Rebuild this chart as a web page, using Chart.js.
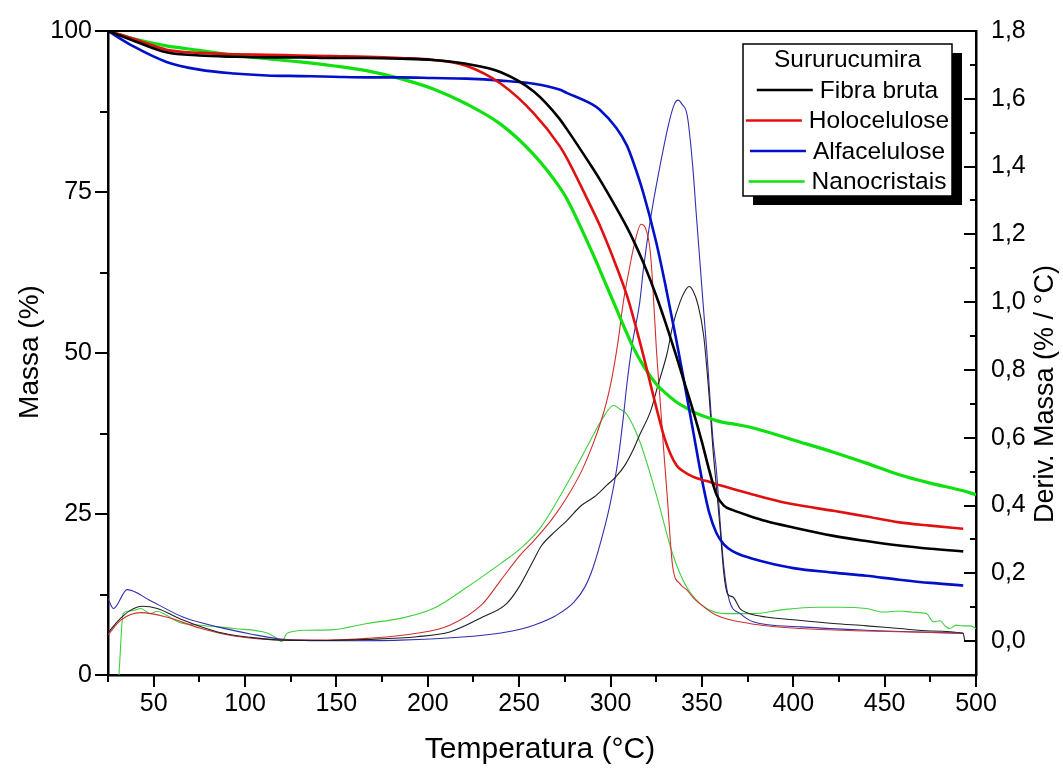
<!DOCTYPE html>
<html>
<head>
<meta charset="utf-8">
<script src="https://cdn.jsdelivr.net/npm/chart.js@4.4.1/dist/chart.umd.min.js"></script>
<style>
  html, body { margin: 0; padding: 0; background: #fff; }
  #wrap { width: 1063px; height: 771px; }
</style>
</head>
<body>
<div id="wrap"><canvas id="tgChart" width="1063" height="771"></canvas></div>
<script>
// temperature grid for the mass (TG) curves, °C
const massTemp = [25, 39, 57, 75, 94, 112, 130, 148, 167, 185, 203, 221, 240, 258, 272, 276, 290, 294, 303, 309,
  312, 318, 325, 330, 336, 340, 345, 350, 354, 358, 362, 367, 376, 385, 400, 422, 440, 458, 475, 493, 500];

// Massa (%)
const fibraMassa = [100, 98.5, 96.7, 96.2, 96.0, 95.9, 95.9, 95.8, 95.8, 95.7, 95.5, 94.9, 93.6, 90.6, 86.4, 84.8, 78.8, 77.0, 72.6, 69.5,
  67.8, 64.0, 58.9, 54.8, 49.5, 45.8, 41.2, 36.2, 31.8, 28.0, 26.3, 25.6, 24.7, 23.9, 22.9, 21.6, 20.8, 20.1, 19.6, 19.2, null];
const holoMassa = [100, 98.8, 97.1, 96.6, 96.4, 96.3, 96.2, 96.1, 96.0, 95.8, 95.5, 94.6, 91.8, 87.2, 82.2, 80.3, 72.3, 69.9, 63.6, 58.9,
  56.0, 49.6, 41.6, 36.4, 32.6, 31.6, 30.8, 30.3, 30.0, 29.6, 29.3, 28.9, 28.2, 27.5, 26.5, 25.5, 24.6, 23.7, 23.2, 22.7, null];
const alfaMassa = [100, 97.6, 95.2, 94.0, 93.4, 93.1, 93.0, 92.9, 92.8, 92.8, 92.7, 92.6, 92.3, 91.8, 90.9, 90.4, 88.6, 87.8, 85.0, 82.2,
  80.0, 74.8, 67.2, 60.6, 52.0, 46.0, 38.2, 30.4, 25.2, 22.0, 20.3, 19.2, 18.2, 17.5, 16.6, 15.9, 15.4, 14.8, 14.3, 13.9, null];
const nanoMassa = [100, 98.8, 97.7, 97.0, 96.2, 95.7, 95.2, 94.6, 93.8, 92.6, 91.0, 88.7, 85.5, 80.8, 75.8, 74.0, 65.6, 63.0, 57.0, 53.0,
  51.1, 48.0, 45.2, 43.8, 42.4, 41.7, 40.9, 40.3, 39.9, 39.5, 39.2, 39.0, 38.5, 37.8, 36.5, 34.6, 32.9, 31.1, 29.8, 28.6, 28.0];

// Deriv. Massa (% / °C)
const fibraDerivTemp = [25, 30, 37, 44, 52, 66, 85, 103, 121, 145, 167, 194, 212, 230, 243, 250, 258, 262, 270, 276,
  284, 291, 298, 303, 308, 312, 316, 322, 326, 331, 334, 338, 341, 343, 345, 348, 351, 354, 356, 358,
  360, 362, 364, 367, 371, 375, 385, 400, 422, 440, 458, 475, 493, 494, 495];
const fibraDeriv = [0.024, 0.057, 0.09, 0.103, 0.096, 0.062, 0.027, 0.011, 0.003, 0.002, 0.005, 0.013, 0.027, 0.071, 0.11, 0.16, 0.24, 0.28, 0.325, 0.355,
  0.40, 0.425, 0.46, 0.485, 0.52, 0.56, 0.609, 0.68, 0.756, 0.85, 0.93, 1.0, 1.035, 1.046, 1.035, 0.99, 0.9, 0.72, 0.57, 0.45,
  0.33, 0.2, 0.14, 0.13, 0.095, 0.083, 0.071, 0.063, 0.052, 0.045, 0.037, 0.03, 0.023, 0.0, 0.0];

const holoDerivTemp = [25, 32, 43, 57, 76, 94, 121, 145, 167, 194, 212, 230, 240, 250, 258, 268, 276, 284, 291, 296,
  300, 304, 307, 310, 313, 316.7, 319, 321.6, 323, 325, 327, 329, 331, 334, 338, 342, 345, 349, 358, 376, 404, 440, 493];
const holoDeriv = [0.018, 0.062, 0.084, 0.071, 0.037, 0.015, 0.003, 0.003, 0.008, 0.023, 0.047, 0.11, 0.18, 0.25, 0.296, 0.36, 0.423, 0.50, 0.59, 0.67,
  0.756, 0.88, 1.0, 1.09, 1.17, 1.23, 1.22, 1.156, 1.06, 0.87, 0.72, 0.57, 0.43, 0.22, 0.169, 0.15, 0.13, 0.11, 0.076, 0.052, 0.037, 0.03, 0.023];

const alfaDerivTemp = [25, 28, 35.5, 48, 66, 85, 103, 121, 148, 185, 221, 240, 250, 258, 270, 280, 286, 290.5, 296, 300,
  304, 307, 309, 312, 316, 318, 322, 327, 332, 335, 337, 339, 342, 345, 347, 350.6, 352.6, 356, 358, 360,
  362, 365, 371, 378, 404, 440, 493];
const alfaDeriv = [0.125, 0.096, 0.152, 0.12, 0.071, 0.042, 0.021, 0.005, 0.001, 0.003, 0.013, 0.024, 0.034, 0.047, 0.075, 0.115, 0.16, 0.218, 0.32, 0.41,
  0.53, 0.66, 0.76, 0.88, 1.0, 1.098, 1.25, 1.40, 1.53, 1.585, 1.596, 1.585, 1.55, 1.40, 1.254, 1.0, 0.863, 0.6, 0.5, 0.35,
  0.22, 0.12, 0.081, 0.057, 0.042, 0.032, 0.023];

const nanoDerivTemp = [31, 33.3, 36, 40, 43, 48, 52, 57, 64.6, 75.6, 94, 112, 117.5, 120, 123, 134, 148.5, 166.7, 185, 203,
  221.4, 239.6, 250.5, 261.7, 276, 288.7, 296, 301.6, 305, 309, 316, 325, 334, 341.7, 352.6, 363.5, 378, 394.5, 412.7, 425,
  440, 449, 458, 466, 473, 476.7, 480.5, 483, 485.6, 489, 493, 497, 500];
const nanoDeriv = [-0.1, 0.081, 0.088, 0.092, 0.096, 0.081, 0.088, 0.076, 0.054, 0.047, 0.037, 0.024, 0.008, -0.002, 0.023, 0.032, 0.034, 0.052, 0.067, 0.096,
  0.159, 0.228, 0.272, 0.335, 0.462, 0.589, 0.66, 0.695, 0.685, 0.668, 0.589, 0.433, 0.257, 0.159, 0.096, 0.081, 0.081, 0.093, 0.1, 0.1,
  0.096, 0.086, 0.089, 0.085, 0.081, 0.057, 0.06, 0.045, 0.037, 0.047, 0.045, 0.045, 0.037];

// tick labels
const tempTicks = [50, 100, 150, 200, 250, 300, 350, 400, 450, 500];
const massTicks = [0, 25, 50, 75, 100];
const derivTicks = [0, 0.2, 0.4, 0.6, 0.8, 1.0, 1.2, 1.4, 1.6, 1.8];

const legendTitle = "Sururucumira";
const seriesNames = ["Fibra bruta", "Holocelulose", "Alfacelulose", "Nanocristais"];
const seriesColors = ["#000000", "#e01010", "#0010c8", "#10e010"];
const derivColors = ["#202020", "#d03030", "#3030b0", "#40d040"];

const FONT = "'Liberation Sans', Arial, sans-serif";

function pts(xs, ys) {
    return xs.map((x, i) => ({ x: x, y: ys[i] }));
}

const massSets = [fibraMassa, holoMassa, alfaMassa, nanoMassa];
const derivSets = [[fibraDerivTemp, fibraDeriv], [holoDerivTemp, holoDeriv], [alfaDerivTemp, alfaDeriv], [nanoDerivTemp, nanoDeriv]];

const datasets = [];
massSets.forEach(function (vals, i) {
    datasets.push({
        label: seriesNames[i],
        data: pts(massTemp, vals),
        yAxisID: "y",
        borderColor: seriesColors[i],
        borderWidth: i === 3 ? 3.2 : 2.6,
        pointRadius: 0,
        fill: false,
        cubicInterpolationMode: "monotone"
    });
});
derivSets.forEach(function (d, i) {
    datasets.push({
        label: seriesNames[i] + " DTG",
        data: pts(d[0], d[1]),
        yAxisID: "y1",
        borderColor: derivColors[i],
        borderWidth: 1.1,
        pointRadius: 0,
        fill: false,
        cubicInterpolationMode: "monotone"
    });
});

// minor/major tick marks, frame, axis titles and the boxed legend
const decorPlugin = {
    id: "decor",
    afterDraw(chart) {
        const ctx = chart.ctx;
        const area = chart.chartArea;
        const xs = chart.scales.x, ys = chart.scales.y, y1 = chart.scales.y1;
        ctx.save();
        ctx.strokeStyle = "#000";
        ctx.lineWidth = 2;

        // top frame line
        ctx.beginPath();
        ctx.moveTo(area.left, area.top);
        ctx.lineTo(area.right, area.top);
        ctx.stroke();

        // x ticks (outward)
        for (let v = 25; v <= 500; v += 25) {
            const px = Math.round(xs.getPixelForValue(v));
            const len = v % 50 === 0 ? 12 : 7;
            ctx.beginPath();
            ctx.moveTo(px, area.bottom);
            ctx.lineTo(px, area.bottom + len);
            ctx.stroke();
        }
        // left ticks (outward)
        for (let k = 0; k <= 8; k++) {
            const py = Math.round(ys.getPixelForValue(k * 12.5));
            const len = k % 2 === 0 ? 13 : 8;
            ctx.beginPath();
            ctx.moveTo(area.left - len, py);
            ctx.lineTo(area.left, py);
            ctx.stroke();
        }
        // right ticks (inward)
        for (let k = 0; k <= 18; k++) {
            const py = Math.round(y1.getPixelForValue(k / 10));
            const len = k % 2 === 0 ? 12 : 6;
            ctx.beginPath();
            ctx.moveTo(area.right - len, py);
            ctx.lineTo(area.right, py);
            ctx.stroke();
        }

        // axis titles
        ctx.fillStyle = "#000";
        ctx.textAlign = "center";
        ctx.textBaseline = "middle";
        ctx.font = "30px " + FONT;
        ctx.fillText("Temperatura (°C)", 540, 750);

        ctx.save();
        ctx.translate(30, 352);
        ctx.rotate(-Math.PI / 2);
        ctx.font = "28px " + FONT;
        ctx.fillText("Massa (%)", 0, 0);
        ctx.restore();

        ctx.save();
        ctx.translate(1046, 394);
        ctx.rotate(-Math.PI / 2);
        ctx.font = "27px " + FONT;
        ctx.fillText("Deriv. Massa (% / °C)", 0, 0);
        ctx.restore();

        // legend box with shadow
        const bx = area.right - 233, by = area.top + 13, bw = 209, bh = 152;
        ctx.fillStyle = "#000";
        ctx.fillRect(bx + 10, by + 9, bw, bh);
        ctx.fillStyle = "#fff";
        ctx.fillRect(bx, by, bw, bh);
        ctx.lineWidth = 1.5;
        ctx.strokeRect(bx, by, bw, bh);

        const cx = bx + bw / 2;
        ctx.fillStyle = "#000";
        ctx.font = "24.5px " + FONT;
        ctx.textAlign = "center";
        ctx.fillText(legendTitle, cx, by + 16);
        ctx.textAlign = "left";
        seriesNames.forEach(function (name, i) {
            const rowY = by + 46 + i * 30.5;
            const tw = ctx.measureText(name).width;
            const lineLen = 56, gap = 7;
            const start = cx - (lineLen + gap + tw) / 2;
            ctx.strokeStyle = seriesColors[i];
            ctx.lineWidth = 2.4;
            ctx.beginPath();
            ctx.moveTo(start, rowY);
            ctx.lineTo(start + lineLen, rowY);
            ctx.stroke();
            ctx.fillText(name, start + lineLen + gap, rowY + 1);
        });
        ctx.restore();
    }
};

new Chart(document.getElementById("tgChart").getContext("2d"), {
    type: "line",
    data: { datasets: datasets },
    plugins: [decorPlugin],
    options: {
        responsive: false,
        animation: false,
        layout: { padding: { top: 27, left: 0, right: 0, bottom: 0 } },
        plugins: {
            legend: { display: false },
            tooltip: { enabled: false }
        },
        scales: {
            x: {
                type: "linear",
                min: 25,
                max: 500,
                afterBuildTicks: function (scale) {
                    scale.ticks = tempTicks.map(v => ({ value: v }));
                },
                afterFit: function (scale) { scale.height = 96; },
                grid: { display: false, drawTicks: false },
                border: { display: true, color: "#000", width: 2.5 },
                ticks: { color: "#000", font: { size: 25, family: FONT }, padding: 14, maxRotation: 0, autoSkip: false }
            },
            y: {
                position: "left",
                min: 0,
                max: 100,
                afterBuildTicks: function (scale) {
                    scale.ticks = massTicks.map(v => ({ value: v }));
                },
                afterFit: function (scale) { scale.width = 108; },
                grid: { display: false, drawTicks: false },
                border: { display: true, color: "#000", width: 2.5 },
                ticks: { color: "#000", font: { size: 25, family: FONT }, padding: 16 }
            },
            y1: {
                position: "right",
                min: -0.1,
                max: 1.8,
                afterBuildTicks: function (scale) {
                    scale.ticks = derivTicks.map(v => ({ value: v }));
                },
                afterFit: function (scale) { scale.width = 87; },
                grid: { display: false, drawTicks: false },
                border: { display: true, color: "#000", width: 2.5 },
                ticks: {
                    color: "#000",
                    font: { size: 25, family: FONT },
                    padding: 15,
                    callback: v => v.toFixed(1).replace(".", ",")
                }
            }
        }
    }
});
</script>
</body>
</html>
